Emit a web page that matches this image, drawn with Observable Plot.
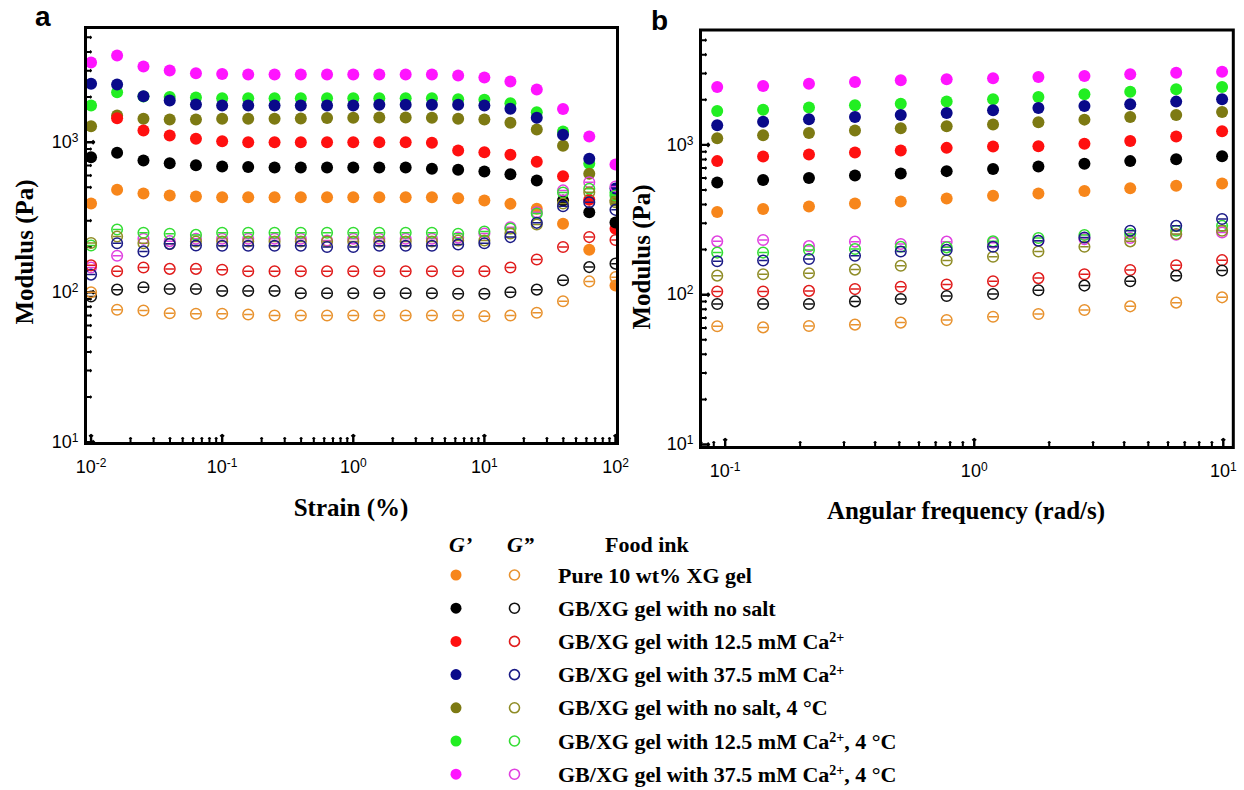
<!DOCTYPE html>
<html>
<head>
<meta charset="utf-8">
<script src="https://cdn.jsdelivr.net/npm/d3@7"></script>
<script src="https://cdn.jsdelivr.net/npm/@observablehq/plot@0.6"></script>
<style>
  html, body { margin: 0; padding: 0; background: #fff; }
  #wrap { position: relative; width: 1244px; height: 790px; overflow: hidden; background: #fff; }
  #wrap > svg, #wrap > div { position: absolute; top: 0; }
  #overlay { left: 0; pointer-events: none; }
</style>
</head>
<body>
<div id="wrap"></div>
<script>
// ---------------- data ----------------
const strain = [0.01, 0.0158, 0.0251, 0.0398, 0.0631, 0.1, 0.158, 0.251, 0.398, 0.631, 1, 1.58, 2.51, 3.98, 6.31, 10, 15.8, 25.1, 39.8, 63.1, 100];
const freq = [0.0929, 0.142, 0.217, 0.332, 0.507, 0.775, 1.19, 1.81, 2.77, 4.23, 6.47, 9.89];

const inks = [
  "Pure 10 wt% XG gel",
  "GB/XG gel with no salt",
  "GB/XG gel with 12.5 mM Ca^{2+}",
  "GB/XG gel with 37.5 mM Ca^{2+}",
  "GB/XG gel with no salt, 4 \u00B0C",
  "GB/XG gel with 12.5 mM Ca^{2+}, 4 \u00B0C",
  "GB/XG gel with 37.5 mM Ca^{2+}, 4 \u00B0C"
];
const fillColors = ["#f7861b", "#000000", "#ff1010", "#0a0a8a", "#7d7a13", "#22ee22", "#ff14ff"];
const ringColors = ["#e8922e", "#111111", "#e01b1b", "#1a1a86", "#8f8c26", "#33dd33", "#e040e0"];

// Strain sweep (panel a): G' storage modulus, Pa
const strainGp = [
  [390, 482, 455, 441, 435, 430, 430, 430, 430, 430, 430, 430, 430, 430, 423, 409, 388, 360, 286, 192, 111],
  [794, 850, 755, 724, 703, 689, 683, 678, 678, 678, 678, 678, 678, 665, 655, 638, 612, 555, 409, 341, 292],
  [null, 1445, 1197, 1108, 1054, 1016, 1000, 1000, 1000, 1000, 1000, 1000, 1000, 991, 880, 858, 824, 740, 593, 413, 265],
  [2449, 2424, 2027, 1897, 1783, 1757, 1757, 1757, 1757, 1757, 1757, 1776, 1776, 1776, 1776, 1757, 1670, 1455, 1120, 775, 491],
  [1279, 1507, 1432, 1417, 1417, 1432, 1432, 1432, 1439, 1450, 1455, 1461, 1461, 1455, 1432, 1417, 1346, 1216, 946, 615, 409],
  [1757, 2154, 2017, 2001, 1986, 1964, 1964, 1964, 1964, 1964, 1964, 1964, 1964, 1964, 1935, 1918, 1820, 1585, 1179, 718, 462],
  [3398, 3784, 3197, 3006, 2884, 2851, 2827, 2827, 2827, 2827, 2827, 2827, 2827, 2827, 2786, 2698, 2540, 2245, 1665, 1091, 710]
];
// Strain sweep (panel a): G'' loss modulus, Pa
const strainGpp = [
  [100, 76.3, 75.5, 72.4, 71.8, 71.8, 71, 70, 70, 70, 70, 70, 70, 70, 70, 69.2, 70, 72.9, 87.1, 118, 126],
  [93.6, 104, 108, 105, 105, 102, 102, 102, 98.4, 98.4, 98.4, 98.4, 98.4, 98.4, 97.5, 97.5, 100, 104, 120, 147, 155],
  [151, 138, 146, 143, 143, 141, 138, 138, 138, 138, 138, 138, 138, 138, 138, 138, 146, 165, 200, 233, 223],
  [131, 212, 187, 210, 205, 204, 204, 204, 204, 200, 200, 204, 204, 204, 208, 212, 233, 290, 374, 398, 354],
  [213, 235, 212, 210, 218, 218, 218, 218, 218, 218, 218, 218, 218, 218, 221, 221, 246, 283, 390, 464, 398],
  [205, 262, 249, 245, 241, 249, 249, 249, 249, 249, 249, 249, 249, 249, 245, 254, 266, 335, 462, 489, 441],
  [146, 175, 227, 219, 227, 227, 227, 227, 227, 221, 227, 227, 227, 227, 231, 246, 271, 341, 477, 541, 507]
];
// Frequency sweep (panel b): G'
const freqGp = [
  [357, 373, 388, 406, 419, 439, 457, 473, 493, 514, 533, 552],
  [561, 582, 600, 624, 644, 668, 689, 717, 747, 779, 803, 841],
  [779, 836, 862, 889, 916, 955, 975, 980, 1016, 1063, 1136, 1234],
  [1353, 1429, 1483, 1537, 1585, 1634, 1704, 1765, 1820, 1867, 1944, 2017],
  [1108, 1161, 1202, 1246, 1292, 1333, 1366, 1417, 1474, 1537, 1585, 1660],
  [1686, 1718, 1774, 1841, 1884, 1945, 2017, 2089, 2178, 2265, 2351, 2436],
  [2436, 2473, 2562, 2630, 2700, 2742, 2786, 2840, 2884, 2958, 3034, 3081]
];
// Frequency sweep (panel b): G''
const freqGpp = [
  [61.5, 60.5, 61.8, 63.1, 65.1, 67.8, 71.3, 74.3, 79.1, 83.6, 88.5, 96],
  [86.7, 86.7, 86.7, 90.2, 93.6, 98, 101, 107, 115, 123, 134, 145],
  [105, 105, 106, 109, 113, 117, 123, 129, 137, 146, 157, 170],
  [167, 169, 173, 182, 194, 199, 209, 229, 241, 267, 288, 320],
  [134, 137, 139, 147, 156, 169, 179, 194, 209, 227, 254, 267],
  [191, 191, 199, 202, 209, 207, 227, 239, 250, 254, 267, 288],
  [227, 232, 211, 226, 218, 226, 222, 229, 235, 239, 251, 260]
];

const xTicksA = [0.01, 0.1, 1, 10, 100];
const xTicksB = [0.1, 1, 10];
const yTicks = [10, 100, 1000];

const xTitleA = "Strain (%)";
const xTitleB = "Angular frequency (rad/s)";
const yTitle = "Modulus (Pa)";

// ---------------- helpers ----------------
function minorTicks(lo, hi, domain) {
  const out = [];
  for (let e = lo; e <= hi; e++) for (let m = 2; m <= 9; m++) {
    const v = m * Math.pow(10, e);
    if (v > domain[0] && v < domain[1]) out.push(v);
  }
  return out;
}
const pow10 = d => "10^" + Math.round(Math.log10(d));

// hollow circle with the small horizontal error bar inside
const ringBar = {
  draw(ctx, size) {
    const r = Math.sqrt(size / Math.PI);
    ctx.moveTo(r, 0);
    ctx.arc(0, 0, r, 0, 2 * Math.PI);
    ctx.moveTo(-r * 0.8, 0);
    ctx.lineTo(r * 0.8, 0);
  }
};

function panel({xs, gp, gpp, xDomain, yDomain, xMajor, width, height, ml, mr, mt, mb}) {
  const xMinor = minorTicks(-3, 2, xDomain);
  const yMinor = minorTicks(0, 4, yDomain);
  const tick = (len, sw) => ({length: len, anchor: "start", stroke: "#000", strokeWidth: sw, strokeLinecap: "butt"});
  const marks = [
    // inward ticks drawn as vectors from the frame edges
    Plot.vector(xMinor, {x: d => d, y: yDomain[0], rotate: 0, ...tick(5.5, 2)}),
    Plot.vector(xMajor, {x: d => d, y: yDomain[0], rotate: 0, ...tick(8.5, 2.4)}),
    Plot.vector(yMinor, {y: d => d, x: xDomain[0], rotate: 90, ...tick(5.5, 2)}),
    Plot.vector(yTicks, {y: d => d, x: xDomain[0], rotate: 90, ...tick(8.5, 2.4)}),
    Plot.axisX(xMajor, {anchor: "bottom", tickSize: 0, tickPadding: 17, tickFormat: pow10, label: null, fontSize: 18}),
    Plot.axisY(yTicks, {anchor: "left", tickSize: 0, tickPadding: 7, tickFormat: pow10, label: null, fontSize: 18})
  ];
  const order = [6, 5, 4, 3, 2, 1, 0];
  for (const s of order) {
    const rows = xs.map((x, i) => ({x, y: gp[s][i]})).filter(d => d.y != null);
    marks.push(Plot.dot(rows, {x: "x", y: "y", r: 6, fill: fillColors[s], stroke: "none", clip: true}));
  }
  for (const s of order) {
    const rows = xs.map((x, i) => ({x, y: gpp[s][i]})).filter(d => d.y != null);
    marks.push(Plot.dot(rows, {x: "x", y: "y", r: 5.3, symbol: ringBar, fill: "none", stroke: ringColors[s], strokeWidth: 1.5, clip: true}));
  }
  marks.push(Plot.frame({stroke: "#000", strokeWidth: 3}));
  const svg = Plot.plot({
    width, height,
    marginLeft: ml, marginRight: mr, marginTop: mt, marginBottom: mb,
    x: {type: "log", domain: xDomain},
    y: {type: "log", domain: yDomain},
    style: {fontFamily: "'Liberation Sans', Arial, sans-serif", fontSize: "18px", background: "none", overflow: "visible", color: "#000"},
    marks
  });
  // superscript exponents on tick labels
  d3.select(svg).selectAll("text").each(function () {
    const m = /^10\^(-?\d+)$/.exec(this.textContent);
    if (!m) return;
    const t = d3.select(this);
    t.text(null);
    t.append("tspan").text("10");
    t.append("tspan").attr("dy", "-0.5em").attr("font-size", "12px").text(m[1]);
  });
  return svg;
}

// ---------------- build ----------------
const wrap = document.getElementById("wrap");

const svgA = panel({
  xs: strain, gp: strainGp, gpp: strainGpp,
  xDomain: [0.00907, 103.6], yDomain: [9.8, 5817], xMajor: xTicksA,
  width: 622, height: 530, ml: 85, mr: 5, mt: 27, mb: 87
});
svgA.style.left = "0px";
wrap.appendChild(svgA);

const svgB = panel({
  xs: freq, gp: freqGp, gpp: freqGpp,
  xDomain: [0.0796, 10.97], yDomain: [9.55, 5845], xMajor: xTicksB,
  width: 622, height: 530, ml: 78, mr: 11.2, mt: 29.5, mb: 83
});
svgB.style.left = "622px";
wrap.appendChild(svgB);

// overlay: panel letters, axis titles, legend
const ov = d3.select(wrap).append("svg").attr("id", "overlay")
  .attr("width", 1244).attr("height", 790);

const serif = "'Liberation Serif', 'Times New Roman', serif";
const sans = "'Liberation Sans', Arial, sans-serif";

ov.append("text").attr("x", 35).attr("y", 26).attr("font-family", sans).attr("font-weight", "bold").attr("font-size", 28).text("a");
ov.append("text").attr("x", 651).attr("y", 30).attr("font-family", sans).attr("font-weight", "bold").attr("font-size", 28).text("b");

function title(x, y, txt, rot) {
  ov.append("text")
    .attr("transform", `translate(${x},${y})${rot ? " rotate(-90)" : ""}`)
    .attr("text-anchor", "middle").attr("font-family", serif).attr("font-weight", "bold")
    .attr("font-size", 25).text(txt);
}
title(351, 516, xTitleA, false);
title(966, 519, xTitleB, false);
title(33, 252, yTitle, true);
title(650, 257, yTitle, true);

// legend
const lg = ov.append("g").attr("font-family", serif).attr("font-weight", "bold").attr("font-size", 22);
lg.append("text").attr("x", 449).attr("y", 552).attr("font-style", "italic").text("G\u2019");
lg.append("text").attr("x", 507).attr("y", 552).attr("font-style", "italic").text("G\u201D");
lg.append("text").attr("x", 605).attr("y", 552).text("Food ink");
inks.forEach((label, i) => {
  const cy = 575 + i * 33.2;
  lg.append("circle").attr("cx", 456).attr("cy", cy).attr("r", 5.5).attr("fill", fillColors[i]);
  lg.append("circle").attr("cx", 514.5).attr("cy", cy).attr("r", 5).attr("fill", "none")
    .attr("stroke", ringColors[i]).attr("stroke-width", 1.6);
  const t = lg.append("text").attr("x", 558).attr("y", cy + 7.5);
  const parts = label.split(/\^\{([^}]*)\}/);
  let raised = false;
  parts.forEach((p, j) => {
    if (!p) return;
    if (j % 2 === 1) {
      t.append("tspan").attr("dy", -7).attr("font-size", 14).text(p);
      raised = true;
    } else {
      const ts = t.append("tspan").text(p);
      if (raised) { ts.attr("dy", 7); raised = false; }
    }
  });
});
</script>
</body>
</html>
